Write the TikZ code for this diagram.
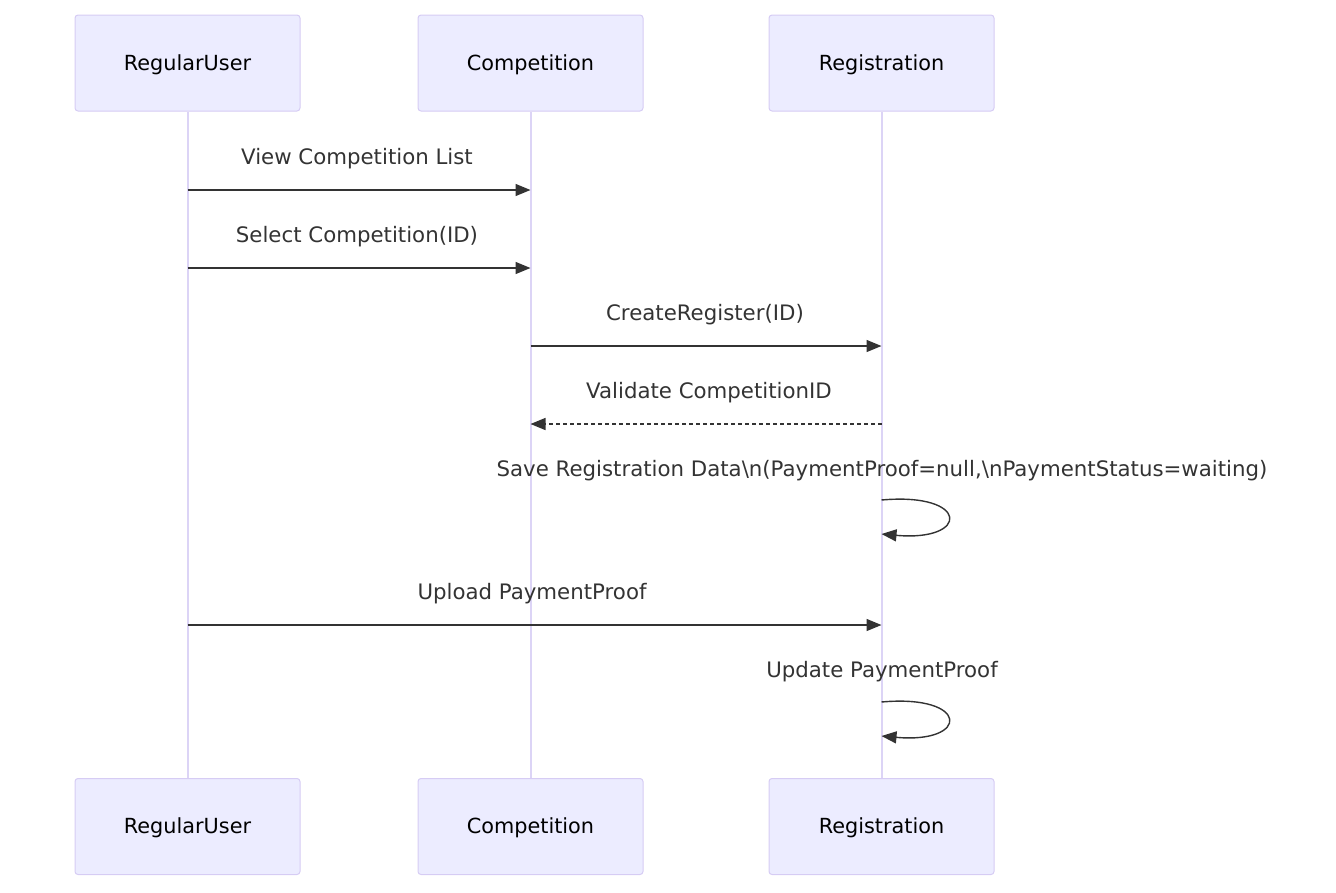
\documentclass[tikz,border=0pt]{standalone}
\usepackage{fontspec}
\setmainfont{DejaVu Sans}
\usetikzlibrary{arrows.meta}
\definecolor{actfill}{HTML}{ECECFF}
\definecolor{actline}{HTML}{D6CCF4}
\definecolor{life}{HTML}{DCD4F6}
\definecolor{ink}{HTML}{333333}
\begin{document}
\begin{tikzpicture}[x=1pt,y=-1pt,line width=1.4pt,font=\fontsize{21.3}{25}\selectfont,
  actor/.style={draw=actline,fill=actfill,rounded corners=3pt,minimum width=225pt,minimum height=96pt,line width=1pt,text=black,font=\fontsize{20.8}{25}\selectfont,text height=14pt,text depth=0pt},
  life/.style={draw=life,line width=2pt},
  msg/.style={draw=ink,-{Triangle[length=15pt,width=12pt]}},
  reply/.style={msg,dash pattern=on 4pt off 3pt},
  lbl/.style={text=ink,inner sep=0pt,yshift=-2pt}]
\useasboundingbox (0,0) rectangle (1336,892);
% actors, top and bottom
\node[actor] (ut) at (187.5,63) {RegularUser};\node[actor] (ct) at (530.5,63) {Competition};\node[actor] (rt) at (881.5,63) {Registration};
\node[actor] (ub) at (187.5,826.5) {RegularUser};\node[actor] (cb) at (530.5,826.5) {Competition};\node[actor] (rb) at (881.5,826.5) {Registration};
% lifelines
\draw[life] (ut.south)--(ub.north);\draw[life] (ct.south)--(cb.north);\draw[life] (rt.south)--(rb.north);
% messages
\node[lbl] (m1) at (357,157) {View Competition List};\draw[msg] (ut|-0,190)--(ct|-0,190);
\node[lbl] (m2) at (357,235) {Select Competition(ID)};\draw[msg] (ut|-0,268)--(ct|-0,268);
\node[lbl] (m3) at (705,313) {CreateRegister(ID)};\draw[msg] (ct|-0,346)--(rt|-0,346);
\node[lbl] (m4) at (709,391) {Validate CompetitionID};\draw[reply] (rt|-0,424)--(ct|-0,424);
\node[lbl] (m5) at (882,469) {Save Registration Data\textbackslash n(PaymentProof=null,\textbackslash nPaymentStatus=waiting)};
\draw[msg] (rt|-0,500) .. controls (970,492) and (970,542) .. (rt|-0,534);
\node[lbl] (m6) at (532,592) {Upload PaymentProof};\draw[msg] (ut|-0,625)--(rt|-0,625);
\node[lbl] (m7) at (882,670) {Update PaymentProof};
\draw[msg] (rt|-0,702) .. controls (970,694) and (970,744) .. (rt|-0,736);
\end{tikzpicture}
\end{document}
